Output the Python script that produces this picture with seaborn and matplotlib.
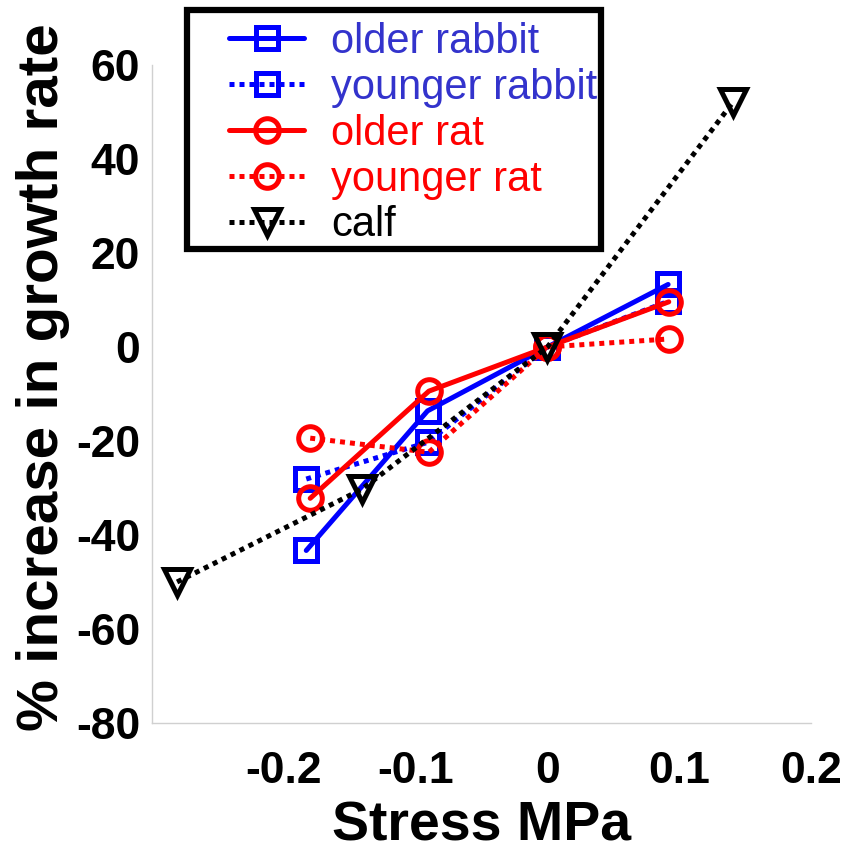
import numpy as np
import pandas as pd
import matplotlib
matplotlib.use("Agg")
import matplotlib.pyplot as plt
from matplotlib.patches import Rectangle
import seaborn as sns

# data
rabbit_old_x = [-0.183, -0.091, 0.0, 0.0915]
rabbit_old_y = [-43.3, -13.6, 0.0, 13.3]
rabbit_young_x = [-0.183, -0.091, 0.0, 0.0915]
rabbit_young_y = [-28.1, -20.3, 0.0, 9.7]
rat_old_x = [-0.180, -0.090, 0.0, 0.092]
rat_old_y = [-32.2, -9.4, 0.0, 9.6]
rat_young_x = [-0.180, -0.090, 0.0, 0.092]
rat_young_y = [-19.4, -22.4, 0.0, 1.7]
calf_x = [-0.281, -0.141, 0.0, 0.141]
calf_y = [-50.0, -30.3, 0.0, 52.2]

labels = ['older rabbit', 'younger rabbit', 'older rat', 'younger rat', 'calf']
xticks = [-0.2, -0.1, 0, 0.1, 0.2]
xticklabels = ['-0.2', '-0.1', '0', '0.1', '0.2']
yticks = [-80, -60, -40, -20, 0, 20, 40, 60]
yticklabels = ['-80', '-60', '-40', '-20', '0', '20', '40', '60']

sns.set_style("white")
plt.rcParams['font.family'] = ['Liberation Sans', 'DejaVu Sans']
plt.rcParams['text.color'] = 'black'
plt.rcParams['axes.labelcolor'] = 'black'
plt.rcParams['xtick.color'] = 'black'
plt.rcParams['ytick.color'] = 'black'

fig = plt.figure(figsize=(8.56, 8.57), dpi=100)
ax = fig.add_axes([0.1776, 0.1564, 0.770, 0.7678])

dot = (0, (1, 1))
series = [
    (rabbit_old_x, rabbit_old_y, 'blue', 's', '-'),
    (rabbit_young_x, rabbit_young_y, 'blue', 's', dot),
    (rat_old_x, rat_old_y, 'red', 'o', '-'),
    (rat_young_x, rat_young_y, 'red', 'o', dot),
    (calf_x, calf_y, 'black', 'v', dot),
]
for (xs, ys, c, m, ls), lab in zip(series, labels):
    df = pd.DataFrame({'x': xs, 'y': ys})
    ms = {'s': 16, 'o': 17, 'v': 19}[m]
    sns.lineplot(data=df, x='x', y='y', ax=ax, color=c, marker=m, linestyle=ls,
                 lw=3.6, markersize=ms, mfc='none', mec=c, mew=3.6, label=lab,
                 sort=False)

ax.set_xlim(-0.3, 0.2)
ax.set_ylim(-80, 60)
ax.set_xticks(xticks)
ax.set_xticklabels(xticklabels)
ax.set_yticks(yticks)
ax.set_yticklabels(yticklabels)
for s in ['top', 'right']:
    ax.spines[s].set_visible(False)
for s in ['left', 'bottom']:
    ax.spines[s].set_color('#d0d0d0')
    ax.spines[s].set_linewidth(1)
ax.tick_params(axis='both', direction='in', color='#d0d0d0', length=5, width=1,
               labelsize=32, labelcolor='black')
ax.tick_params(axis='x', pad=20)
ax.tick_params(axis='y', pad=8.5)
for t in ax.get_xticklabels() + ax.get_yticklabels():
    t.set_fontweight('bold')

ax.set_xlabel('Stress MPa', fontsize=40, fontweight='bold', labelpad=6)
ax.set_ylabel('% increase in growth rate', fontsize=42, fontweight='bold')
ax.yaxis.set_label_coords(-0.124, 0.525)

leg = ax.legend(loc='upper left', bbox_to_anchor=(229 / 856, 1 - 22 / 857),
                bbox_transform=fig.transFigure, frameon=False, fontsize=30,
                handlelength=1.8, handletextpad=0.65, labelspacing=0.14,
                borderpad=0.0, borderaxespad=0.0)
text_colors = ['#3333cc', '#3333cc', 'red', 'red', 'black']
for t, c in zip(leg.get_texts(), text_colors):
    t.set_color(c)

fig.patches.append(Rectangle((187 / 856, 1 - 249 / 857), 414 / 856, 239 / 857,
                             transform=fig.transFigure, fill=False,
                             edgecolor='black', linewidth=4.5, zorder=5))

fig.savefig('out.png', dpi=100)
